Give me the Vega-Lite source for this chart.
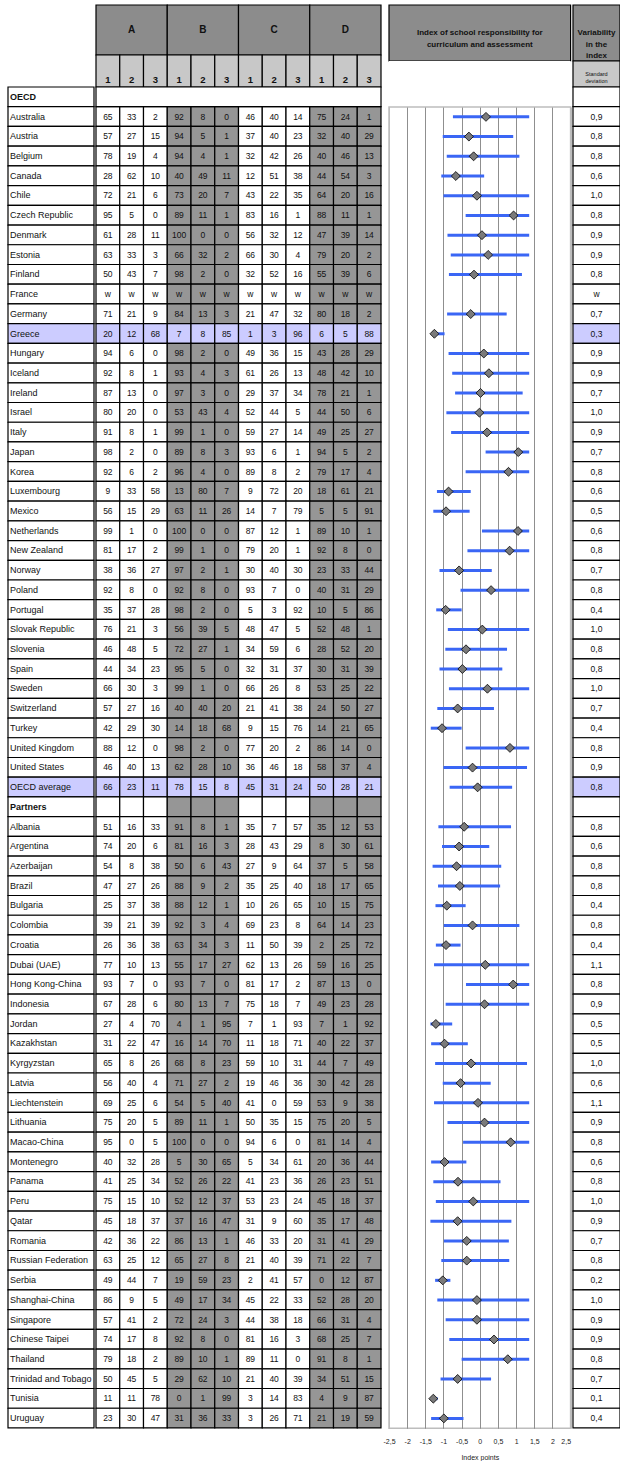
{
  "$schema": "https://vega.github.io/schema/vega-lite/v6.json",
  "background": "white",
  "padding": {"left": 7, "top": 4, "right": 0, "bottom": 0},
  "config": {
    "view": {"stroke": null},
    "font": "Liberation Sans",
    "text": {"font": "Liberation Sans", "color": "#111111"},
    "axis": {"labelFont": "Liberation Sans", "titleFont": "Liberation Sans"}
  },
  "datasets": {
    "rows": [
      {"i":0,"name":"OECD","sd":""},
      {"i":1,"name":"Australia","A1":65,"A2":33,"A3":2,"B1":92,"B2":8,"B3":0,"C1":46,"C2":40,"C3":14,"D1":75,"D2":24,"D3":1,"sd":"0,9","m":0.17,"lo":-0.74,"hi":1.36},
      {"i":2,"name":"Austria","A1":57,"A2":27,"A3":15,"B1":94,"B2":5,"B3":1,"C1":37,"C2":40,"C3":23,"D1":32,"D2":40,"D3":29,"sd":"0,8","m":-0.30,"lo":-1.02,"hi":0.92},
      {"i":3,"name":"Belgium","A1":78,"A2":19,"A3":4,"B1":94,"B2":4,"B3":1,"C1":32,"C2":42,"C3":26,"D1":40,"D2":46,"D3":13,"sd":"0,8","m":-0.17,"lo":-0.91,"hi":1.09},
      {"i":4,"name":"Canada","A1":28,"A2":62,"A3":10,"B1":40,"B2":49,"B3":11,"C1":12,"C2":51,"C3":38,"D1":44,"D2":54,"D3":3,"sd":"0,6","m":-0.66,"lo":-1.06,"hi":0.12},
      {"i":5,"name":"Chile","A1":72,"A2":21,"A3":6,"B1":73,"B2":20,"B3":7,"C1":43,"C2":22,"C3":35,"D1":64,"D2":20,"D3":16,"sd":"1,0","m":-0.08,"lo":-1.0,"hi":1.36},
      {"i":6,"name":"Czech Republic","A1":95,"A2":5,"A3":0,"B1":89,"B2":11,"B3":1,"C1":83,"C2":16,"C3":1,"D1":88,"D2":11,"D3":1,"sd":"0,8","m":0.93,"lo":-0.39,"hi":1.36},
      {"i":7,"name":"Denmark","A1":61,"A2":28,"A3":11,"B1":100,"B2":0,"B3":0,"C1":56,"C2":32,"C3":12,"D1":47,"D2":39,"D3":14,"sd":"0,9","m":0.06,"lo":-0.89,"hi":1.36},
      {"i":8,"name":"Estonia","A1":63,"A2":33,"A3":3,"B1":66,"B2":32,"B3":2,"C1":66,"C2":30,"C3":4,"D1":79,"D2":20,"D3":2,"sd":"0,9","m":0.23,"lo":-0.80,"hi":1.36},
      {"i":9,"name":"Finland","A1":50,"A2":43,"A3":7,"B1":98,"B2":2,"B3":0,"C1":32,"C2":52,"C3":16,"D1":55,"D2":39,"D3":6,"sd":"0,8","m":-0.16,"lo":-0.85,"hi":1.16},
      {"i":10,"name":"France","A1":"w","A2":"w","A3":"w","B1":"w","B2":"w","B3":"w","C1":"w","C2":"w","C3":"w","D1":"w","D2":"w","D3":"w","sd":"w"},
      {"i":11,"name":"Germany","A1":71,"A2":21,"A3":9,"B1":84,"B2":13,"B3":3,"C1":21,"C2":47,"C3":32,"D1":80,"D2":18,"D3":2,"sd":"0,7","m":-0.25,"lo":-0.90,"hi":0.74},
      {"i":12,"name":"Greece","A1":20,"A2":12,"A3":68,"B1":7,"B2":8,"B3":85,"C1":1,"C2":3,"C3":96,"D1":6,"D2":5,"D3":88,"sd":"0,3","m":-1.25,"lo":-1.30,"hi":-0.97},
      {"i":13,"name":"Hungary","A1":94,"A2":6,"A3":0,"B1":98,"B2":2,"B3":0,"C1":49,"C2":36,"C3":15,"D1":43,"D2":28,"D3":29,"sd":"0,9","m":0.11,"lo":-0.86,"hi":1.36},
      {"i":14,"name":"Iceland","A1":92,"A2":8,"A3":1,"B1":93,"B2":4,"B3":3,"C1":61,"C2":26,"C3":13,"D1":48,"D2":42,"D3":10,"sd":"0,9","m":0.25,"lo":-0.76,"hi":1.36},
      {"i":15,"name":"Ireland","A1":87,"A2":13,"A3":0,"B1":97,"B2":3,"B3":0,"C1":29,"C2":37,"C3":34,"D1":78,"D2":21,"D3":1,"sd":"0,7","m":0.02,"lo":-0.68,"hi":1.18},
      {"i":16,"name":"Israel","A1":80,"A2":20,"A3":0,"B1":53,"B2":43,"B3":4,"C1":52,"C2":44,"C3":5,"D1":44,"D2":50,"D3":6,"sd":"1,0","m":-0.01,"lo":-0.92,"hi":1.36},
      {"i":17,"name":"Italy","A1":91,"A2":8,"A3":1,"B1":99,"B2":1,"B3":0,"C1":59,"C2":27,"C3":14,"D1":49,"D2":25,"D3":27,"sd":"0,9","m":0.20,"lo":-0.79,"hi":1.36},
      {"i":18,"name":"Japan","A1":98,"A2":2,"A3":0,"B1":89,"B2":8,"B3":3,"C1":93,"C2":6,"C3":1,"D1":94,"D2":5,"D3":2,"sd":"0,7","m":1.06,"lo":0.16,"hi":1.36},
      {"i":19,"name":"Korea","A1":92,"A2":6,"A3":2,"B1":96,"B2":4,"B3":0,"C1":89,"C2":8,"C3":2,"D1":79,"D2":17,"D3":4,"sd":"0,8","m":0.79,"lo":-0.39,"hi":1.36},
      {"i":20,"name":"Luxembourg","A1":9,"A2":33,"A3":58,"B1":13,"B2":80,"B3":7,"C1":9,"C2":72,"C3":20,"D1":18,"D2":61,"D3":21,"sd":"0,6","m":-0.86,"lo":-1.18,"hi":-0.25},
      {"i":21,"name":"Mexico","A1":56,"A2":15,"A3":29,"B1":63,"B2":11,"B3":26,"C1":14,"C2":7,"C3":79,"D1":5,"D2":5,"D3":91,"sd":"0,5","m":-0.93,"lo":-1.28,"hi":-0.28},
      {"i":22,"name":"Netherlands","A1":99,"A2":1,"A3":0,"B1":100,"B2":0,"B3":0,"C1":87,"C2":12,"C3":1,"D1":89,"D2":10,"D3":1,"sd":"0,6","m":1.05,"lo":0.06,"hi":1.36},
      {"i":23,"name":"New Zealand","A1":81,"A2":17,"A3":2,"B1":99,"B2":1,"B3":0,"C1":79,"C2":20,"C3":1,"D1":92,"D2":8,"D3":0,"sd":"0,8","m":0.82,"lo":-0.34,"hi":1.36},
      {"i":24,"name":"Norway","A1":38,"A2":36,"A3":27,"B1":97,"B2":2,"B3":1,"C1":30,"C2":40,"C3":30,"D1":23,"D2":33,"D3":44,"sd":"0,7","m":-0.57,"lo":-1.11,"hi":0.33},
      {"i":25,"name":"Poland","A1":92,"A2":8,"A3":0,"B1":92,"B2":8,"B3":0,"C1":93,"C2":7,"C3":0,"D1":40,"D2":31,"D3":29,"sd":"0,8","m":0.31,"lo":-0.53,"hi":1.36},
      {"i":26,"name":"Portugal","A1":35,"A2":37,"A3":28,"B1":98,"B2":2,"B3":0,"C1":5,"C2":3,"C3":92,"D1":10,"D2":5,"D3":86,"sd":"0,4","m":-0.94,"lo":-1.20,"hi":-0.50},
      {"i":27,"name":"Slovak Republic","A1":76,"A2":21,"A3":3,"B1":56,"B2":39,"B3":5,"C1":48,"C2":47,"C3":5,"D1":52,"D2":48,"D3":1,"sd":"1,0","m":0.07,"lo":-0.88,"hi":1.36},
      {"i":28,"name":"Slovenia","A1":46,"A2":48,"A3":5,"B1":72,"B2":27,"B3":1,"C1":34,"C2":59,"C3":6,"D1":28,"D2":52,"D3":20,"sd":"0,8","m":-0.38,"lo":-0.95,"hi":0.75},
      {"i":29,"name":"Spain","A1":44,"A2":34,"A3":23,"B1":95,"B2":5,"B3":0,"C1":32,"C2":31,"C3":37,"D1":30,"D2":31,"D3":39,"sd":"0,8","m":-0.48,"lo":-1.11,"hi":0.62},
      {"i":30,"name":"Sweden","A1":66,"A2":30,"A3":3,"B1":99,"B2":1,"B3":0,"C1":66,"C2":26,"C3":8,"D1":53,"D2":25,"D3":22,"sd":"1,0","m":0.21,"lo":-0.85,"hi":1.36},
      {"i":31,"name":"Switzerland","A1":57,"A2":27,"A3":16,"B1":40,"B2":40,"B3":20,"C1":21,"C2":41,"C3":38,"D1":24,"D2":50,"D3":27,"sd":"0,7","m":-0.61,"lo":-1.17,"hi":0.39},
      {"i":32,"name":"Turkey","A1":42,"A2":29,"A3":30,"B1":14,"B2":18,"B3":68,"C1":9,"C2":15,"C3":76,"D1":14,"D2":21,"D3":65,"sd":"0,4","m":-1.04,"lo":-1.35,"hi":-0.50},
      {"i":33,"name":"United Kingdom","A1":88,"A2":12,"A3":0,"B1":98,"B2":2,"B3":0,"C1":77,"C2":20,"C3":2,"D1":86,"D2":14,"D3":0,"sd":"0,8","m":0.83,"lo":-0.39,"hi":1.36},
      {"i":34,"name":"United States","A1":46,"A2":40,"A3":13,"B1":62,"B2":28,"B3":10,"C1":36,"C2":46,"C3":18,"D1":58,"D2":37,"D3":4,"sd":"0,9","m":-0.20,"lo":-1.0,"hi":1.30},
      {"i":35,"name":"OECD average","A1":66,"A2":23,"A3":11,"B1":78,"B2":15,"B3":8,"C1":45,"C2":31,"C3":24,"D1":50,"D2":28,"D3":21,"sd":"0,8","m":-0.06,"lo":-0.83,"hi":0.89},
      {"i":36,"name":"Partners","A1":"","A2":"","A3":"","B1":"","B2":"","B3":"","C1":"","C2":"","C3":"","D1":"","D2":"","D3":"","sd":""},
      {"i":37,"name":"Albania","A1":51,"A2":16,"A3":33,"B1":91,"B2":8,"B3":1,"C1":35,"C2":7,"C3":57,"D1":35,"D2":12,"D3":53,"sd":"0,8","m":-0.43,"lo":-1.14,"hi":0.86},
      {"i":38,"name":"Argentina","A1":74,"A2":20,"A3":6,"B1":81,"B2":16,"B3":3,"C1":28,"C2":43,"C3":29,"D1":8,"D2":30,"D3":61,"sd":"0,6","m":-0.57,"lo":-1.04,"hi":0.26},
      {"i":39,"name":"Azerbaijan","A1":54,"A2":8,"A3":38,"B1":50,"B2":6,"B3":43,"C1":27,"C2":9,"C3":64,"D1":37,"D2":5,"D3":58,"sd":"0,8","m":-0.64,"lo":-1.30,"hi":0.59},
      {"i":40,"name":"Brazil","A1":47,"A2":27,"A3":26,"B1":88,"B2":9,"B3":2,"C1":35,"C2":25,"C3":40,"D1":18,"D2":17,"D3":65,"sd":"0,8","m":-0.55,"lo":-1.15,"hi":0.56},
      {"i":41,"name":"Bulgaria","A1":25,"A2":37,"A3":38,"B1":88,"B2":12,"B3":1,"C1":10,"C2":26,"C3":65,"D1":10,"D2":15,"D3":75,"sd":"0,4","m":-0.91,"lo":-1.22,"hi":-0.39},
      {"i":42,"name":"Colombia","A1":39,"A2":21,"A3":39,"B1":92,"B2":3,"B3":4,"C1":69,"C2":23,"C3":8,"D1":64,"D2":14,"D3":23,"sd":"0,8","m":-0.20,"lo":-0.99,"hi":1.09},
      {"i":43,"name":"Croatia","A1":26,"A2":36,"A3":38,"B1":63,"B2":34,"B3":3,"C1":11,"C2":50,"C3":39,"D1":2,"D2":25,"D3":72,"sd":"0,4","m":-0.93,"lo":-1.21,"hi":-0.53},
      {"i":44,"name":"Dubai (UAE)","A1":77,"A2":10,"A3":13,"B1":55,"B2":17,"B3":27,"C1":62,"C2":13,"C3":26,"D1":59,"D2":16,"D3":25,"sd":"1,1","m":0.15,"lo":-1.26,"hi":1.36},
      {"i":45,"name":"Hong Kong-China","A1":93,"A2":7,"A3":0,"B1":93,"B2":7,"B3":0,"C1":81,"C2":17,"C3":2,"D1":87,"D2":13,"D3":0,"sd":"0,8","m":0.92,"lo":-0.38,"hi":1.36},
      {"i":46,"name":"Indonesia","A1":67,"A2":28,"A3":6,"B1":80,"B2":13,"B3":7,"C1":75,"C2":18,"C3":7,"D1":49,"D2":23,"D3":28,"sd":"0,9","m":0.13,"lo":-0.94,"hi":1.36},
      {"i":47,"name":"Jordan","A1":27,"A2":4,"A3":70,"B1":4,"B2":1,"B3":95,"C1":7,"C2":1,"C3":93,"D1":7,"D2":1,"D3":92,"sd":"0,5","m":-1.21,"lo":-1.36,"hi":-0.76},
      {"i":48,"name":"Kazakhstan","A1":31,"A2":22,"A3":47,"B1":16,"B2":14,"B3":70,"C1":11,"C2":18,"C3":71,"D1":40,"D2":22,"D3":37,"sd":"0,5","m":-0.97,"lo":-1.34,"hi":-0.33},
      {"i":49,"name":"Kyrgyzstan","A1":65,"A2":8,"A3":26,"B1":68,"B2":8,"B3":23,"C1":59,"C2":10,"C3":31,"D1":44,"D2":7,"D3":49,"sd":"1,0","m":-0.24,"lo":-1.23,"hi":1.30},
      {"i":50,"name":"Latvia","A1":56,"A2":40,"A3":4,"B1":71,"B2":27,"B3":2,"C1":19,"C2":46,"C3":36,"D1":30,"D2":42,"D3":28,"sd":"0,6","m":-0.53,"lo":-1.02,"hi":0.30},
      {"i":51,"name":"Liechtenstein","A1":69,"A2":25,"A3":6,"B1":54,"B2":5,"B3":40,"C1":41,"C2":0,"C3":59,"D1":53,"D2":9,"D3":38,"sd":"1,1","m":-0.05,"lo":-1.26,"hi":1.36},
      {"i":52,"name":"Lithuania","A1":75,"A2":20,"A3":5,"B1":89,"B2":11,"B3":1,"C1":50,"C2":35,"C3":15,"D1":75,"D2":20,"D3":5,"sd":"0,9","m":0.13,"lo":-0.89,"hi":1.36},
      {"i":53,"name":"Macao-China","A1":95,"A2":0,"A3":5,"B1":100,"B2":0,"B3":0,"C1":94,"C2":6,"C3":0,"D1":81,"D2":14,"D3":4,"sd":"0,8","m":0.85,"lo":-0.46,"hi":1.36},
      {"i":54,"name":"Montenegro","A1":40,"A2":32,"A3":28,"B1":5,"B2":30,"B3":65,"C1":5,"C2":34,"C3":61,"D1":20,"D2":36,"D3":44,"sd":"0,6","m":-0.97,"lo":-1.34,"hi":-0.37},
      {"i":55,"name":"Panama","A1":41,"A2":25,"A3":34,"B1":52,"B2":26,"B3":22,"C1":41,"C2":23,"C3":36,"D1":26,"D2":23,"D3":51,"sd":"0,8","m":-0.60,"lo":-1.28,"hi":0.57},
      {"i":56,"name":"Peru","A1":75,"A2":15,"A3":10,"B1":52,"B2":12,"B3":37,"C1":53,"C2":23,"C3":24,"D1":45,"D2":18,"D3":37,"sd":"1,0","m":-0.18,"lo":-1.21,"hi":1.36},
      {"i":57,"name":"Qatar","A1":45,"A2":18,"A3":37,"B1":37,"B2":16,"B3":47,"C1":31,"C2":9,"C3":60,"D1":35,"D2":17,"D3":48,"sd":"0,9","m":-0.61,"lo":-1.36,"hi":0.87},
      {"i":58,"name":"Romania","A1":42,"A2":36,"A3":22,"B1":86,"B2":13,"B3":1,"C1":46,"C2":33,"C3":20,"D1":31,"D2":41,"D3":29,"sd":"0,7","m":-0.36,"lo":-0.99,"hi":0.80},
      {"i":59,"name":"Russian Federation","A1":63,"A2":25,"A3":12,"B1":65,"B2":27,"B3":8,"C1":21,"C2":40,"C3":39,"D1":71,"D2":22,"D3":7,"sd":"0,8","m":-0.36,"lo":-1.06,"hi":0.81},
      {"i":60,"name":"Serbia","A1":49,"A2":44,"A3":7,"B1":19,"B2":59,"B3":23,"C1":2,"C2":41,"C3":57,"D1":0,"D2":12,"D3":87,"sd":"0,2","m":-1.02,"lo":-1.23,"hi":-0.81},
      {"i":61,"name":"Shanghai-China","A1":86,"A2":9,"A3":5,"B1":49,"B2":17,"B3":34,"C1":45,"C2":22,"C3":33,"D1":52,"D2":28,"D3":20,"sd":"1,0","m":-0.08,"lo":-1.17,"hi":1.36},
      {"i":62,"name":"Singapore","A1":57,"A2":41,"A3":2,"B1":72,"B2":24,"B3":3,"C1":44,"C2":38,"C3":18,"D1":66,"D2":31,"D3":4,"sd":"0,9","m":-0.08,"lo":-0.94,"hi":1.36},
      {"i":63,"name":"Chinese Taipei","A1":74,"A2":17,"A3":8,"B1":92,"B2":8,"B3":0,"C1":81,"C2":16,"C3":3,"D1":68,"D2":25,"D3":7,"sd":"0,9","m":0.39,"lo":-0.84,"hi":1.36},
      {"i":64,"name":"Thailand","A1":79,"A2":18,"A3":2,"B1":89,"B2":10,"B3":1,"C1":89,"C2":11,"C3":0,"D1":91,"D2":8,"D3":1,"sd":"0,8","m":0.77,"lo":-0.50,"hi":1.36},
      {"i":65,"name":"Trinidad and Tobago","A1":50,"A2":45,"A3":5,"B1":29,"B2":62,"B3":10,"C1":21,"C2":40,"C3":39,"D1":34,"D2":51,"D3":15,"sd":"0,7","m":-0.61,"lo":-1.08,"hi":0.31},
      {"i":66,"name":"Tunisia","A1":11,"A2":11,"A3":78,"B1":0,"B2":1,"B3":99,"C1":3,"C2":14,"C3":83,"D1":4,"D2":9,"D3":87,"sd":"0,1","m":-1.28,"lo":-1.31,"hi":-1.16},
      {"i":67,"name":"Uruguay","A1":23,"A2":30,"A3":47,"B1":31,"B2":36,"B3":33,"C1":3,"C2":26,"C3":71,"D1":21,"D2":19,"D3":59,"sd":"0,4","m":-0.99,"lo":-1.34,"hi":-0.45}
    ]
  },
  "spacing": 0,
  "hconcat": [
    {
      "spacing": 0,
      "hconcat": [
        {
          "spacing": 0,
          "bounds": "flush",
          "vconcat": [
            {
              "width": 86, "height": 82,
              "data": {"values": [{"k": "blank"}]},
              "mark": {"type": "rect", "fill": "white", "stroke": "white", "strokeWidth": 1.2},
              "encoding": {
                "x": {"field": "k", "type": "nominal", "scale": {"paddingInner": 0, "paddingOuter": 0}, "axis": null},
                "y": {"field": "k", "type": "nominal", "scale": {"paddingInner": 0, "paddingOuter": 0}, "axis": null}
              }
            },
            {
              "width": 86, "height": 1340.96,
              "data": {"name": "rows"},
              "encoding": {
                "y": {"field": "name", "type": "nominal", "sort": {"field": "i", "op": "min"}, "scale": {"paddingInner": 0, "paddingOuter": 0}, "axis": null},
                "x": {"datum": "c", "type": "nominal", "scale": {"paddingInner": 0, "paddingOuter": 0}, "axis": null}
              },
              "layer": [
                {
                  "mark": {"type": "rect", "stroke": "black", "strokeWidth": 1.2},
                  "encoding": {
                    "fill": {"condition": {"test": "datum.name === 'Greece' || datum.name === 'OECD average'", "value": "#ccccff"}, "value": "white"}
                  }
                },
                {
                  "transform": [{"filter": "datum.name !== 'OECD' && datum.name !== 'Partners'"}],
                  "mark": {"type": "text", "align": "left", "dx": 2, "fontSize": 9, "limit": 83, "ellipsis": ""},
                  "encoding": {
                    "x": {"datum": "c", "type": "nominal", "bandPosition": 0},
                    "text": {"field": "name"}
                  }
                },
                {
                  "transform": [{"filter": "datum.name === 'OECD' || datum.name === 'Partners'"}],
                  "mark": {"type": "text", "align": "left", "dx": 2, "fontSize": 9, "fontWeight": "bold"},
                  "encoding": {
                    "x": {"datum": "c", "type": "nominal", "bandPosition": 0},
                    "text": {"field": "name"}
                  }
                }
              ]
            }
          ]
        },
        {
          "spacing": 0,
          "bounds": "flush",
          "vconcat": [
            {
              "width": 285, "height": 50,
              "data": {"values": [{"g": "A"}, {"g": "B"}, {"g": "C"}, {"g": "D"}]},
              "encoding": {
                "x": {"field": "g", "type": "nominal", "scale": {"paddingInner": 0, "paddingOuter": 0}, "axis": null},
                "y": {"datum": "h", "type": "nominal", "scale": {"paddingInner": 0, "paddingOuter": 0}, "axis": null}
              },
              "layer": [
                {"mark": {"type": "rect", "fill": "#8c8c8c", "stroke": "black", "strokeWidth": 1.2}},
                {"mark": {"type": "text", "fontSize": 10, "fontWeight": "bold"}, "encoding": {"text": {"field": "g"}}}
              ]
            },
            {
              "width": 285, "height": 32,
              "data": {"values": [
                {"k": "A1", "t": "1"}, {"k": "A2", "t": "2"}, {"k": "A3", "t": "3"},
                {"k": "B1", "t": "1"}, {"k": "B2", "t": "2"}, {"k": "B3", "t": "3"},
                {"k": "C1", "t": "1"}, {"k": "C2", "t": "2"}, {"k": "C3", "t": "3"},
                {"k": "D1", "t": "1"}, {"k": "D2", "t": "2"}, {"k": "D3", "t": "3"}
              ]},
              "encoding": {
                "x": {"field": "k", "type": "nominal", "sort": null, "scale": {"paddingInner": 0, "paddingOuter": 0}, "axis": null}
              },
              "layer": [
                {
                  "mark": {"type": "rect", "fill": "#c8c8c8", "stroke": "black", "strokeWidth": 1.2},
                  "encoding": {"y": {"datum": "h", "type": "nominal", "scale": {"paddingInner": 0, "paddingOuter": 0}, "axis": null}}
                },
                {
                  "mark": {"type": "text", "fontSize": 9.5, "fontWeight": "bold", "baseline": "bottom", "dy": -2},
                  "encoding": {
                    "y": {"datum": "h", "type": "nominal", "bandPosition": 1},
                    "text": {"field": "t"}
                  }
                }
              ]
            },
            {
              "width": 285, "height": 1340.96,
              "data": {"name": "rows"},
              "encoding": {
                "y": {"field": "name", "type": "nominal", "sort": {"field": "i", "op": "min"}, "scale": {"paddingInner": 0, "paddingOuter": 0}, "axis": null}
              },
              "layer": [
                {
                  "transform": [
                    {"filter": "datum.name !== 'OECD'"},
                    {"fold": ["A1", "A2", "A3", "B1", "B2", "B3", "C1", "C2", "C3", "D1", "D2", "D3"], "as": ["key", "val"]}
                  ],
                  "encoding": {
                    "x": {"field": "key", "type": "nominal", "scale": {"domain": ["A1", "A2", "A3", "B1", "B2", "B3", "C1", "C2", "C3", "D1", "D2", "D3"], "paddingInner": 0, "paddingOuter": 0}, "axis": null}
                  },
                  "layer": [
                    {
                      "mark": {"type": "rect", "stroke": "black", "strokeWidth": 1.2},
                      "encoding": {
                        "fill": {
                          "condition": [
                            {"test": "datum.name === 'Greece' || datum.name === 'OECD average'", "value": "#ccccff"},
                            {"test": "test(/^[BD]/, datum.key)", "value": "#969696"}
                          ],
                          "value": "white"
                        }
                      }
                    },
                    {
                      "mark": {"type": "text", "fontSize": 8.5},
                      "encoding": {"text": {"field": "val"}}
                    }
                  ]
                },
                {
                  "transform": [{"filter": "datum.name === 'OECD'"}],
                  "mark": {"type": "rect", "fill": "white", "stroke": "black", "strokeWidth": 1.2}
                }
              ]
            }
          ]
        }
      ]
    },
    {
      "spacing": 0,
      "hconcat": [
        {
          "spacing": 0,
          "bounds": "flush",
          "vconcat": [
            {
              "width": 181.6, "height": 56,
              "data": {"values": [{"t": "Index of school responsibility for\ncurriculum and assessment"}]},
              "encoding": {
                "x": {"field": "t", "type": "nominal", "scale": {"paddingInner": 0, "paddingOuter": 0}, "axis": null},
                "y": {"field": "t", "type": "nominal", "scale": {"paddingInner": 0, "paddingOuter": 0}, "axis": null}
              },
              "layer": [
                {"mark": {"type": "rect", "fill": "#8c8c8c", "stroke": "black", "strokeWidth": 1.2}},
                {"mark": {"type": "text", "fontSize": 8, "fontWeight": "bold", "lineBreak": "\n", "lineHeight": 12}, "encoding": {"text": {"field": "t"}}}
              ]
            },
            {
              "width": 181.6, "height": 45.72,
              "data": {"values": [{"k": "blank"}]},
              "mark": {"type": "rect", "fill": "white"},
              "encoding": {
                "x": {"field": "k", "type": "nominal", "scale": {"paddingInner": 0, "paddingOuter": 0}, "axis": null},
                "y": {"field": "k", "type": "nominal", "scale": {"paddingInner": 0, "paddingOuter": 0}, "axis": null}
              }
            },
            {
              "width": 181.6, "height": 1321.24,
              "view": {"stroke": "#bdbdbd", "strokeWidth": 1.5},
              "data": {"name": "rows"},
              "transform": [{"filter": "datum.name !== 'OECD'"}],
              "encoding": {
                "y": {"field": "name", "type": "nominal", "sort": {"field": "i", "op": "min"}, "scale": {"paddingInner": 0, "paddingOuter": 0}, "axis": null}
              },
              "layer": [
                {
                  "mark": {"type": "rule", "color": "#3a66f5", "strokeWidth": 3, "invalid": "break-paths-show-domains"},
                  "encoding": {
                    "x": {
                      "field": "lo", "type": "quantitative",
                      "scale": {"domain": [-2.5, 2.5], "nice": false, "zero": false},
                      "axis": {
                        "orient": "bottom",
                        "values": [-2.5, -2, -1.5, -1, -0.5, 0, 0.5, 1, 1.5, 2, 2.5],
                        "tickCount": 30,
                        "format": "~g",
                        "grid": true,
                        "gridColor": {"condition": {"test": "abs(datum.value) > 2.4", "value": "#bdbdbd"}, "value": "#8f8f8f"},
                        "gridWidth": 1,
                        "domain": false,
                        "ticks": false,
                        "labelFontSize": 7,
                        "labelColor": "#222222",
                        "labelPadding": 9,
                        "labelOverlap": false,
                        "labelBound": false,
                        "labelFlush": false,
                        "labelAlign": {"condition": {"test": "datum.value > 2.4", "value": "right"}, "value": "center"},
                        "labelExpr": "replace(replace(datum.label, '.', ','), '\u2212', '-')",
                        "title": "Index points",
                        "titleFontSize": 7,
                        "titleFontWeight": "normal",
                        "titleColor": "#222222",
                        "titlePadding": 9
                      }
                    },
                    "x2": {"field": "hi"}
                  }
                },
                {
                  "mark": {"type": "point", "shape": "diamond", "filled": true, "fill": "#7a7a7a", "stroke": "black", "strokeWidth": 0.8, "size": 80, "opacity": 1, "invalid": "break-paths-show-domains"},
                  "encoding": {
                    "x": {"field": "m", "type": "quantitative"}
                  }
                }
              ]
            }
          ]
        },
        {
          "spacing": 0,
          "bounds": "flush",
          "vconcat": [
            {
              "width": 47, "height": 56,
              "data": {"values": [{"t": "Variability\nin the\nindex"}]},
              "encoding": {
                "x": {"field": "t", "type": "nominal", "scale": {"paddingInner": 0, "paddingOuter": 0}, "axis": null},
                "y": {"field": "t", "type": "nominal", "scale": {"paddingInner": 0, "paddingOuter": 0}, "axis": null}
              },
              "layer": [
                {"mark": {"type": "rect", "fill": "#8c8c8c", "stroke": "black", "strokeWidth": 1.2}},
                {"mark": {"type": "text", "fontSize": 8, "fontWeight": "bold", "lineBreak": "\n", "lineHeight": 11.5}, "encoding": {"text": {"field": "t"}}}
              ]
            },
            {
              "width": 47, "height": 26,
              "data": {"values": [{"t": "Standard\ndeviation"}]},
              "encoding": {
                "x": {"field": "t", "type": "nominal", "scale": {"paddingInner": 0, "paddingOuter": 0}, "axis": null},
                "y": {"field": "t", "type": "nominal", "scale": {"paddingInner": 0, "paddingOuter": 0}, "axis": null}
              },
              "layer": [
                {"mark": {"type": "rect", "fill": "#c8c8c8", "stroke": "black", "strokeWidth": 1.2}},
                {"mark": {"type": "text", "fontSize": 5.5, "lineBreak": "\n", "lineHeight": 7}, "encoding": {"text": {"field": "t"}}}
              ]
            },
            {
              "width": 47, "height": 1340.96,
              "data": {"name": "rows"},
              "encoding": {
                "y": {"field": "name", "type": "nominal", "sort": {"field": "i", "op": "min"}, "scale": {"paddingInner": 0, "paddingOuter": 0}, "axis": null},
                "x": {"datum": "c", "type": "nominal", "scale": {"paddingInner": 0, "paddingOuter": 0}, "axis": null}
              },
              "layer": [
                {
                  "mark": {"type": "rect", "stroke": "black", "strokeWidth": 1.2},
                  "encoding": {
                    "fill": {"condition": {"test": "datum.name === 'Greece' || datum.name === 'OECD average'", "value": "#ccccff"}, "value": "white"}
                  }
                },
                {
                  "mark": {"type": "text", "fontSize": 8.5},
                  "encoding": {"text": {"field": "sd"}}
                }
              ]
            }
          ]
        }
      ]
    }
  ]
}
